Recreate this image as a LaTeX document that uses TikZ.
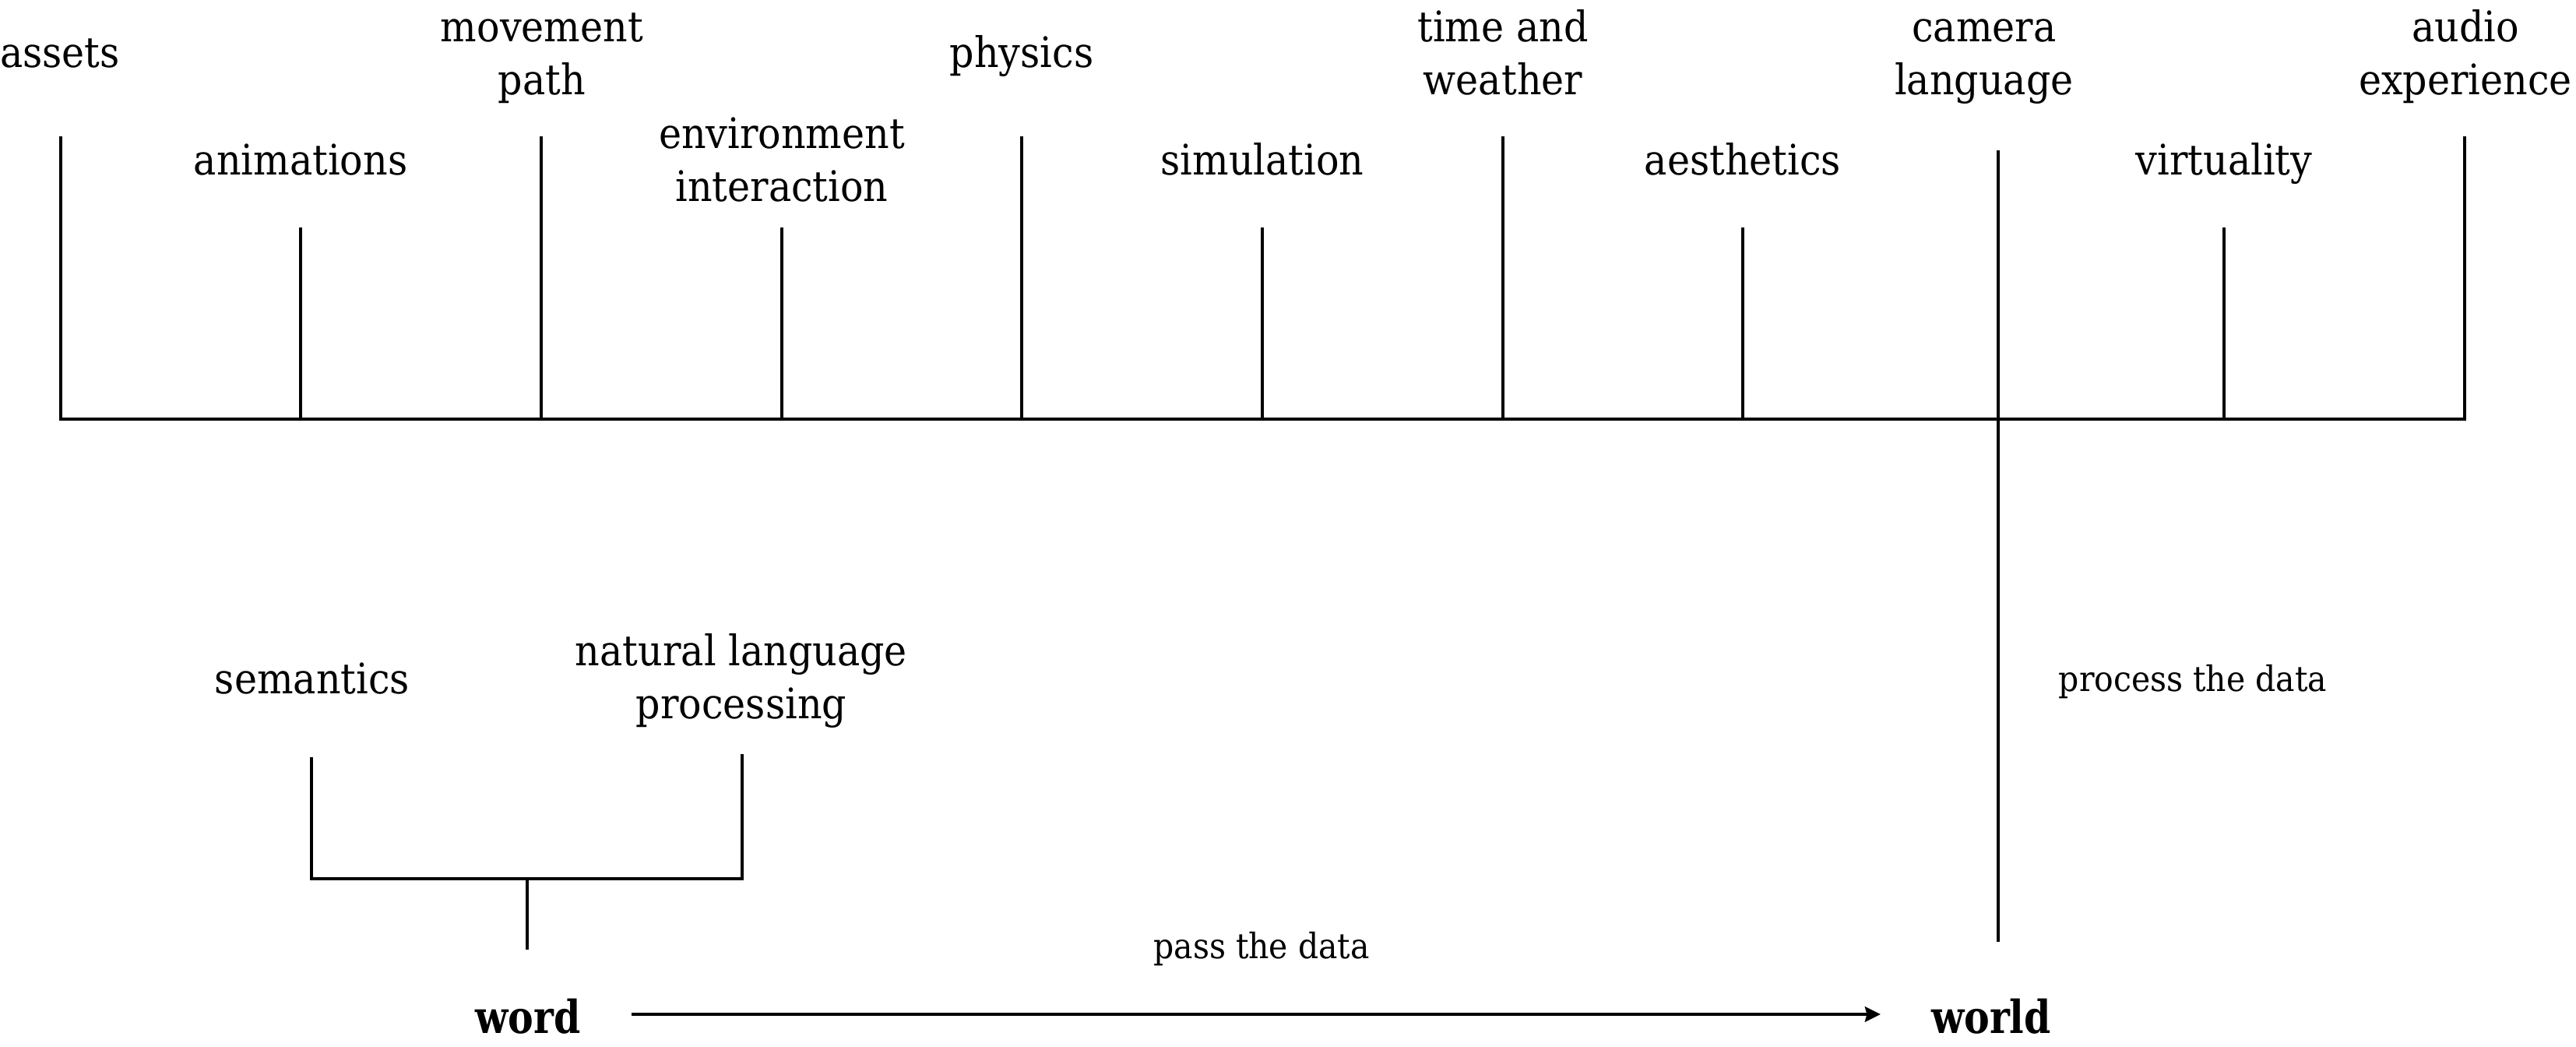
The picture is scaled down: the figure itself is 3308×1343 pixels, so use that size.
\documentclass[tikz,border=0pt]{standalone}
\usepackage{fontspec}
\setmainfont{DejaVu Serif}[FakeStretch=0.91]
\newfontfamily\lblfont{DejaVu Serif}[FakeStretch=0.91]
\newfontfamily\wfont{DejaVu Serif}[FakeStretch=0.84]
\usetikzlibrary{arrows.meta}
\newcommand\twoline[2]{\vtop{\baselineskip=17pt\halign{\hfil##\hfil\cr#1\cr#2\cr}}}
\begin{document}
\begin{tikzpicture}[x=0.25pt,y=-0.25pt,
  lbl/.style={font=\lblfont\fontsize{13.5pt}{17pt}\selectfont, inner sep=0pt, anchor=base},
  smalllbl/.style={font=\lblfont\fontsize{11.25pt}{14pt}\selectfont, inner sep=0pt, anchor=base},
  endword/.style={font=\wfont\bfseries\fontsize{14.6pt}{17pt}\selectfont, inner sep=0pt, anchor=base},
  ln/.style={line width=1.1pt, black}]
\useasboundingbox (0,0) rectangle (3308,1343);

% top labels
\node[lbl] (assets) at (77,86) {assets};
\node[lbl] (movement) at (696,53) {\twoline{movement}{path}};
\node[lbl] (physics) at (1312,86) {physics};
\node[lbl] (timew) at (1930,53) {\twoline{time and}{weather}};
\node[lbl] (camera) at (2548,53) {\twoline{camera}{language}};
\node[lbl] (audio) at (3166,53) {\twoline{audio}{experience}};
\node[lbl] (anim) at (386,224) {animations};
\node[lbl] (envint) at (1004,190) {\twoline{environment}{interaction}};
\node[lbl] (sim) at (1621,224) {simulation};
\node[lbl] (aesth) at (2238,224) {aesthetics};
\node[lbl] (virt) at (2856,224) {virtuality};

% tick tops and bar points
\coordinate (tA) at (78,175);   \coordinate (bA) at (78,538);
\coordinate (tB) at (386,292);  \coordinate (bB) at (386,538);
\coordinate (tC) at (695,175);  \coordinate (bC) at (695,538);
\coordinate (tD) at (1004,292); \coordinate (bD) at (1004,538);
\coordinate (tE) at (1312,175); \coordinate (bE) at (1312,538);
\coordinate (tF) at (1621,292); \coordinate (bF) at (1621,538);
\coordinate (tG) at (1930,175); \coordinate (bG) at (1930,538);
\coordinate (tH) at (2238,292); \coordinate (bH) at (2238,538);
\coordinate (tJ) at (2856,292); \coordinate (bJ) at (2856,538);
\coordinate (tK) at (3165,175); \coordinate (bK) at (3165,538);
\coordinate (camTop) at (2566,193); \coordinate (camBot) at (2566,1209);

\draw[ln] (tA) -- (bA) -- (bK) -- (tK);
\foreach \n in {B,C,D,E,F,G,H,J} { \draw[ln] (t\n) -- (b\n); }
\draw[ln] (camTop) -- (camBot);

% lower left labels and bracket
\node[lbl] (sem) at (401,890) {semantics};
\node[lbl] (nlp) at (952,854) {\twoline{natural language}{processing}};
\coordinate (semTop) at (400,972);  \coordinate (semBot) at (400,1128);
\coordinate (nlpTop) at (953,968);  \coordinate (nlpBot) at (953,1128);
\coordinate (stemTop) at (677,1128); \coordinate (stemBot) at (677,1219);
\draw[ln] (semTop) -- (semBot) -- (nlpBot) -- (nlpTop);
\draw[ln] (stemTop) -- (stemBot);

% bottom
\node[endword] (word) at (678,1326) {word};
\node[endword] (world) at (2557,1326) {world};
\coordinate (arrS) at (811,1302);
\coordinate (arrE) at (2415,1302);
\draw[ln, -{Stealth[length=5pt,width=4.8pt,inset=0.6pt]}] (arrS) -- (arrE);
\node[smalllbl] (pass) at (1620,1230) {pass the data};
\node[smalllbl] (proc) at (2816,887) {process the data};
\end{tikzpicture}
\end{document}
